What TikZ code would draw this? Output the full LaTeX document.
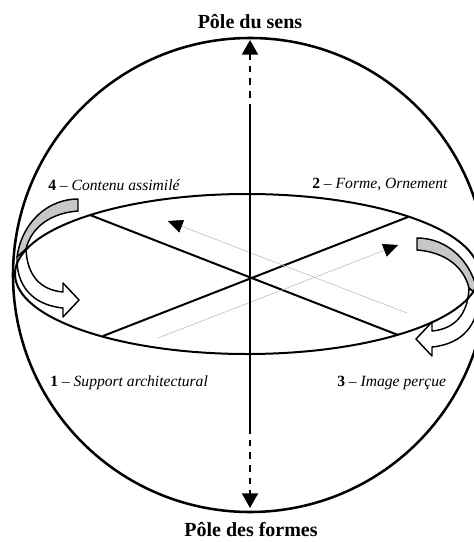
\documentclass[tikz,border=0pt]{standalone}
\usepackage{fontspec}
\setmainfont{Liberation Serif}
\usetikzlibrary{arrows.meta, positioning}

\tikzset{
  axe/.style={line width=1.5pt},
  pointe/.style={-{Triangle[length=11pt,width=12pt]}},
  pointille/.style={dash pattern=on 5pt off 4.5pt},
  fleche/.style={line width=0.4pt, gray!55, -{Triangle[length=11pt,width=10pt,black]}},
  lbl/.style={font=\fontsize{11.7}{14}\selectfont, inner sep=0pt, anchor=west},
  pole/.style={font=\fontsize{15}{18}\selectfont\bfseries, inner sep=0pt},
  tour/.pic={
    % partie grise (derriere)
    \filldraw[fill=black!22, line width=1.1pt, line join=round]
      (78,199) -- (78,211) .. controls (50,213) and (31,228) .. (26,249)
      -- (17,257) .. controls (22,222) and (48,199) .. (78,199) -- cycle;
    % partie blanche avec la pointe
    \filldraw[fill=white, line width=1.1pt, line join=round]
      (26,249) .. controls (27,275) and (40,290) .. (63,292) -- (63,283)
      -- (79,300) -- (63,317) -- (63,308) .. controls (32,305) and (16,285) .. (17,257) -- cycle;
  }
}

\begin{document}
\begin{tikzpicture}[x=0.75pt, y=-0.75pt]
\useasboundingbox (0,0) rectangle (474,542);

\coordinate (O) at (250,275);
\coordinate (E) at (247,274);
\coordinate (haut) at (250,40);
\coordinate (bas) at (250,508);
\coordinate (s1) at (250,108);
\coordinate (s2) at (250,427);
\coordinate (p4) at (90,215);
\coordinate (p3) at (398,335);
\coordinate (p2) at (408,217);
\coordinate (p1) at (103,336);
\coordinate (g1s) at (158,338);
\coordinate (g1e) at (398,245);
\coordinate (g2s) at (407,313);
\coordinate (g2e) at (168,221);

% fleches tournantes
\pic at (0,0) {tour};
\pic[xscale=-1] at (495,39) {tour};

\draw[axe] (E) ellipse [x radius=232, y radius=80];
\draw[line width=1.9pt] (O) circle [radius=237];

\draw[axe] (p4) -- (p3);
\draw[axe] (p2) -- (p1);
\draw[fleche] (g1s) -- (g1e);
\draw[fleche] (g2s) -- (g2e);

\draw[axe, pointille, pointe] (O) -- (haut);
\draw[axe, pointille, pointe] (O) -- (bas);
\draw[axe] (s1) -- (s2);

\node[pole] (sens) at (250,22) {Pôle du sens};
\node[pole] (formes) at (251,530) {Pôle des formes};
\node[lbl] (l4) at (48,185) {\textbf{4} -- \textit{Contenu assimilé}};
\node[lbl] (l2) at (312,185) {\textbf{2} -- \textit{Forme, Ornement}};
\node[lbl] (l1) at (50,383) {\textbf{1} -- \textit{Support architectural}};
\node[lbl] (l3) at (337,383) {\textbf{3} -- \textit{Image perçue}};
\end{tikzpicture}
\end{document}
